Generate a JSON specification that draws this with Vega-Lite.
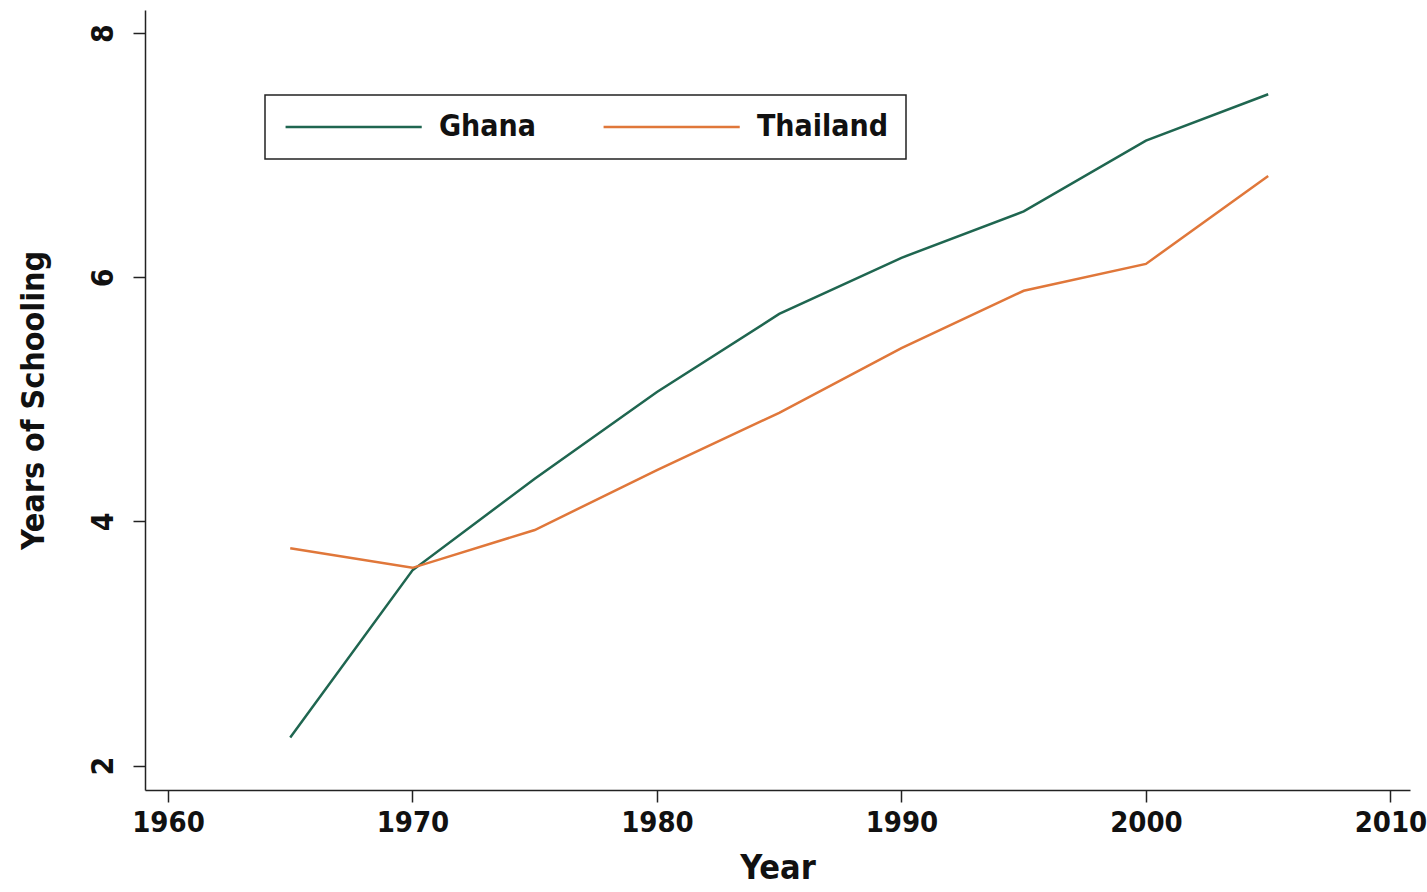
{
  "$schema": "https://vega.github.io/schema/vega-lite/v6.json",
  "autosize": "none",
  "width": 1265,
  "height": 780,
  "padding": {"left": 145, "top": 10, "right": 17, "bottom": 102},
  "background": "white",
  "config": {
    "view": {"stroke": null},
    "font": "'DejaVu Sans Condensed', 'Liberation Sans Narrow', Roboto, sans-serif"
  },
  "data": {
    "values": [
      {"year": 1965, "country": "Ghana", "schooling": 2.23},
      {"year": 1970, "country": "Ghana", "schooling": 3.60},
      {"year": 1975, "country": "Ghana", "schooling": 4.35},
      {"year": 1980, "country": "Ghana", "schooling": 5.06},
      {"year": 1985, "country": "Ghana", "schooling": 5.70},
      {"year": 1990, "country": "Ghana", "schooling": 6.16},
      {"year": 1995, "country": "Ghana", "schooling": 6.54},
      {"year": 2000, "country": "Ghana", "schooling": 7.12},
      {"year": 2005, "country": "Ghana", "schooling": 7.50},
      {"year": 1965, "country": "Thailand", "schooling": 3.78},
      {"year": 1970, "country": "Thailand", "schooling": 3.62},
      {"year": 1975, "country": "Thailand", "schooling": 3.93},
      {"year": 1980, "country": "Thailand", "schooling": 4.42},
      {"year": 1985, "country": "Thailand", "schooling": 4.89},
      {"year": 1990, "country": "Thailand", "schooling": 5.42},
      {"year": 1995, "country": "Thailand", "schooling": 5.89},
      {"year": 2000, "country": "Thailand", "schooling": 6.11},
      {"year": 2005, "country": "Thailand", "schooling": 6.83}
    ]
  },
  "mark": {"type": "line", "strokeWidth": 2.5},
  "encoding": {
    "x": {
      "field": "year",
      "type": "quantitative",
      "scale": {"domain": [1959.06, 2010.8], "nice": false, "zero": false},
      "axis": {
        "title": "Year",
        "values": [1960, 1970, 1980, 1990, 2000, 2010],
        "format": "d",
        "grid": false,
        "domainColor": "#222222",
        "domainWidth": 1.5,
        "tickColor": "#222222",
        "tickWidth": 1.5,
        "tickSize": 12,
        "labelFont": "'DejaVu Sans Condensed', 'Liberation Sans Narrow', Roboto, sans-serif",
        "labelFontWeight": "bold",
        "labelFontSize": 29,
        "labelColor": "#111111",
        "labelPadding": 6,
        "labelFlush": false,
        "titleFont": "'DejaVu Sans Condensed', 'Liberation Sans Narrow', Roboto, sans-serif",
        "titleFontWeight": "bold",
        "titleFontSize": 34,
        "titleColor": "#111111",
        "titlePadding": 14
      }
    },
    "y": {
      "field": "schooling",
      "type": "quantitative",
      "scale": {"domain": [1.8, 8.19], "nice": false, "zero": false},
      "axis": {
        "title": "Years of Schooling",
        "values": [2, 4, 6, 8],
        "grid": false,
        "domainColor": "#222222",
        "domainWidth": 1.5,
        "tickColor": "#222222",
        "tickWidth": 1.5,
        "tickSize": 12,
        "labelAngle": -90,
        "labelAlign": "center",
        "labelBaseline": "bottom",
        "labelFont": "'DejaVu Sans Condensed', 'Liberation Sans Narrow', Roboto, sans-serif",
        "labelFontWeight": "bold",
        "labelFontSize": 30,
        "labelColor": "#111111",
        "labelPadding": 15,
        "titleFont": "'DejaVu Sans Condensed', 'Liberation Sans Narrow', Roboto, sans-serif",
        "titleFontWeight": "bold",
        "titleFontSize": 32,
        "titleColor": "#111111",
        "titlePadding": 38
      }
    },
    "color": {
      "field": "country",
      "type": "nominal",
      "scale": {"domain": ["Ghana", "Thailand"], "range": ["#1f6650", "#e0773a"]},
      "legend": {
        "title": null,
        "orient": "none",
        "legendX": 120,
        "legendY": 85,
        "direction": "horizontal",
        "symbolType": "M-6,0H6",
        "symbolSize": 515,
        "symbolStrokeWidth": 2.5,
        "symbolOffset": 56.65,
        "labelFont": "'DejaVu Sans Condensed', 'Liberation Sans Narrow', Roboto, sans-serif",
        "labelFontWeight": "bold",
        "labelFontSize": 30,
        "labelColor": "#111111",
        "labelOffset": 70.3,
        "columnPadding": 62,
        "padding": 17,
        "strokeColor": "#222222",
        "fillColor": "white",
        "cornerRadius": 0,
        "encode": {"legend": {"update": {"strokeWidth": {"value": 1.5}}}}
      }
    }
  }
}
